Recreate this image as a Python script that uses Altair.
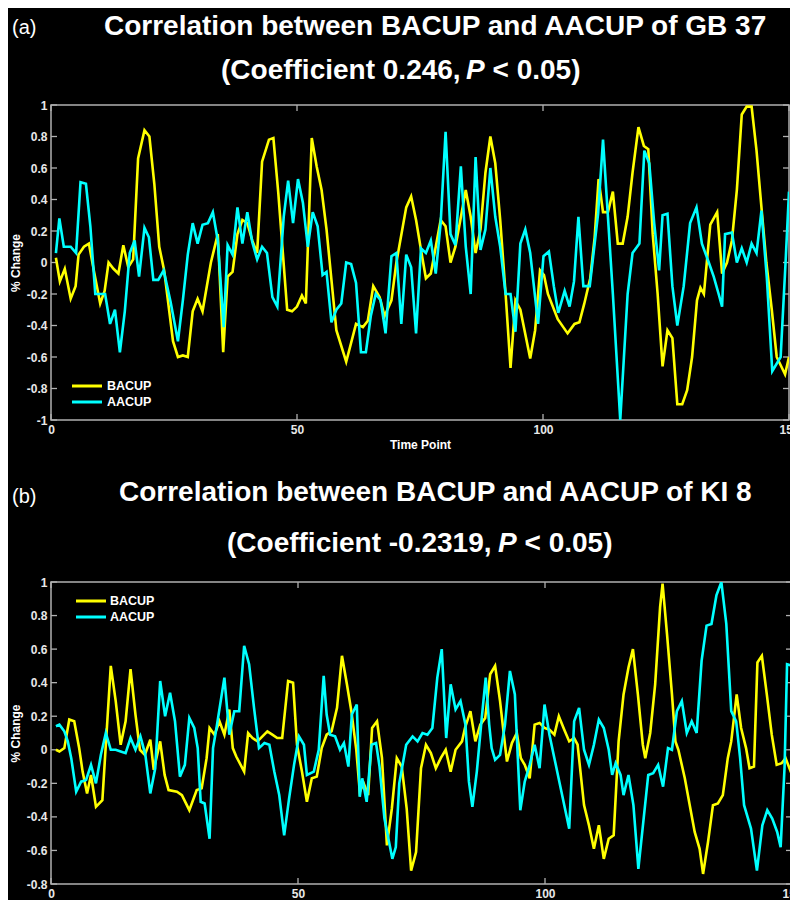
import altair as alt
import pandas as pd

FONT = "Liberation Sans"
SERIES = ["BACUP", "AACUP"]
COLORS = ["#ffff00", "#00ffff"]
X_TICKS = [0, 50, 100, 150]
A_Y_TICKS = [-1, -0.8, -0.6, -0.4, -0.2, 0, 0.2, 0.4, 0.6, 0.8, 1]
B_Y_TICKS = [-0.8, -0.6, -0.4, -0.2, 0, 0.2, 0.4, 0.6, 0.8, 1]
X_TITLE = "Time Point"
Y_TITLE = "% Change"
A_LABEL = "(a)"
B_LABEL = "(b)"
A_TITLE = "Correlation between BACUP and AACUP of GB 37"
A_SUB = ["(Coefficient 0.246,", "P", "< 0.05)"]
B_TITLE = "Correlation between BACUP and AACUP of KI 8"
B_SUB = ["(Coefficient -0.2319,", "P", "< 0.05)"]

# ---- panel (a) : GB 37 ----
A_BACUP_T = [1, 1.8, 2.8, 4, 5, 5.6, 6.7, 7.7, 8.7, 10,
             10.9, 11.7, 12.7, 13.7, 14.7, 15.7, 16.7, 17.7, 19, 20,
             21, 22, 23, 24.8, 25.8, 26.8, 27.8, 28.8, 29.8, 30.8,
             32.5, 33.9, 35, 35.9, 36.9, 37.9, 38.9, 39.9, 40.9, 41.9,
             42.9, 44.3, 45.2, 46.2, 48, 49, 50, 51, 51.8, 53,
             54, 55, 56, 58, 60, 62, 63.4, 64.4, 65.5, 66.8,
             67.8, 69.2, 70.2, 72.2, 73.2, 74.2, 75.2, 76.2, 77.2, 78.2,
             79.2, 80.2, 81.2, 82.2, 83.2, 84.3, 85.3, 86.3, 87.3, 88.3,
             89.3, 90.3, 91.3, 92.4, 93.4, 94.4, 95.4, 97.4, 98.4, 99.4,
             100.2, 101, 103, 105, 106.4, 107.4, 108.4, 109.6, 110.5, 111.3,
             112.2, 113.2, 114.2, 115.2, 116.2, 117.2, 118.2, 119.4, 120.5, 121.4,
             122.3, 123.3, 124.3, 125.3, 126.3, 127.3, 128.3, 129.3, 130.3, 131.3,
             132, 132.7, 134, 135.4, 136.4, 137.4, 138.4, 139.4, 140.4, 141.4,
             142.4, 143.4, 144.4, 145.4, 146.5, 147.5, 149.2, 150]
A_BACUP_V = [0.03, -0.12, -0.04, -0.23, -0.15, 0.05, 0.10, 0.12, -0.05, -0.26,
             -0.18, 0.0, -0.04, -0.07, 0.11, -0.03, 0.02, 0.66, 0.84, 0.80,
             0.50, 0.10, -0.05, -0.50, -0.60, -0.59, -0.60, -0.31, -0.23, -0.31,
             0.0, 0.18, -0.57, -0.09, -0.06, 0.18, 0.27, 0.25, 0.14, 0.06,
             0.64, 0.78, 0.79, 0.44, -0.30, -0.31, -0.28, -0.21, -0.26, 0.79,
             0.61, 0.46, 0.21, -0.43, -0.63, -0.39, -0.41, -0.37, -0.15, -0.22,
             -0.34, -0.24, 0.0, 0.35, 0.42, 0.27, 0.08, -0.10, -0.07, 0.10,
             0.27, 0.23, 0.0, 0.10, 0.27, 0.46, 0.29, 0.06, 0.21, 0.57,
             0.80, 0.63, 0.27, -0.20, -0.67, -0.24, -0.30, -0.61, -0.43, -0.05,
             -0.08, -0.20, -0.36, -0.45, -0.39, -0.38, -0.26, -0.10, 0.16, 0.53,
             0.32, 0.32, 0.45, 0.12, 0.12, 0.29, 0.57, 0.86, 0.74, 0.72,
             0.18, -0.20, -0.66, -0.43, -0.48, -0.90, -0.90, -0.81, -0.60, -0.24,
             -0.16, -0.20, 0.24, 0.32, -0.07, 0.0, 0.14, 0.46, 0.94, 0.99,
             0.99, 0.71, 0.35, 0.0, -0.30, -0.60, -0.71, -0.60]
A_AACUP_T = [1, 1.7, 2.6, 4, 5.1, 6, 7.1, 8, 9, 10,
             11, 12, 13, 14, 15, 16, 17, 17.9, 19, 19.9,
             20.8, 21.8, 22.9, 24.3, 25.8, 26.8, 27.8, 28.8, 29.8, 30.8,
             31.9, 32.9, 33.9, 35.1, 35.9, 36.9, 37.9, 38.9, 39.9, 40.9,
             41.9, 42.9, 43.9, 45, 46, 47.3, 48.2, 49.2, 50.2, 51.2,
             52.2, 53.2, 54.2, 55.2, 56, 57, 58, 59, 60, 61,
             62, 63, 64, 65, 66, 67, 68, 69.2, 70.2, 71.2,
             72.2, 73.2, 74.2, 75.2, 76.2, 77.2, 78.2, 79.2, 80.2, 81.2,
             82.2, 83.3, 84.3, 85.3, 86.3, 87.3, 88.3, 89.3, 90.3, 91.3,
             92.4, 93.4, 94.4, 95.4, 96.4, 97.4, 99, 100.1, 101.2, 102.2,
             103.1, 104.4, 105.4, 106.3, 107.2, 108.2, 109.5, 111.2, 112.2, 113.2,
             114.2, 115.7, 117.2, 118.2, 119.6, 120.6, 121.6, 122.6, 123.6, 124.3,
             125.3, 126.3, 127.3, 128.6, 129.9, 131.2, 132.3, 133.7, 134.7, 135.7,
             136.4, 137, 138.4, 139.4, 140.4, 141.4, 142.4, 143.4, 144.4, 145.5,
             146.6, 148.3, 149.3, 150]
A_AACUP_V = [0.06, 0.28, 0.10, 0.10, 0.06, 0.51, 0.50, 0.23, -0.20, -0.20,
             -0.20, -0.39, -0.30, -0.57, -0.31, 0.06, 0.14, -0.09, 0.22, 0.16,
             -0.11, -0.11, -0.05, -0.25, -0.50, -0.24, 0.05, 0.25, 0.12, 0.24,
             0.25, 0.32, 0.14, -0.41, 0.11, 0.05, 0.35, 0.12, 0.32, 0.13,
             0.02, 0.10, 0.06, -0.22, -0.28, 0.29, 0.52, 0.25, 0.53, 0.38,
             0.10, 0.32, 0.23, -0.08, -0.06, -0.38, -0.30, -0.26, 0.0, -0.01,
             -0.13, -0.57, -0.57, -0.34, -0.20, -0.24, -0.45, 0.04, 0.06, -0.39,
             0.05, -0.03, -0.45, 0.09, 0.06, 0.14, -0.07, 0.25, 0.83, 0.18,
             0.11, 0.61, 0.10, -0.20, 0.67, 0.08, 0.21, 0.60, 0.29, 0.10,
             -0.20, -0.20, -0.44, 0.12, 0.21, 0.06, -0.39, 0.04, 0.07, -0.15,
             -0.32, -0.18, -0.28, -0.12, 0.29, -0.15, -0.15, 0.31, 0.78, 0.29,
             -0.20, -1.0, -0.20, 0.06, 0.12, 0.71, 0.63, 0.25, -0.05, 0.30,
             0.31, -0.15, -0.40, -0.15, 0.25, 0.35, 0.12, 0.0, -0.09, -0.20,
             -0.28, 0.18, 0.19, 0.0, 0.09, 0.0, 0.12, 0.06, 0.33, -0.10,
             -0.69, -0.60, 0.0, 0.45]

# ---- panel (b) : KI 8 ----
B_BACUP_T = [1, 1.7, 2.7, 3.7, 4.7, 5.7, 6.4, 7.3, 8.1, 9.1,
             10.4, 11.1, 12.1, 13.1, 14.1, 15.1, 16.1, 17.1, 18, 19,
             20.1, 20.8, 22.1, 23, 23.8, 25.5, 26.5, 28, 29.5, 30.5,
             31.5, 32.1, 33.1, 34.1, 35.1, 36.1, 36.8, 37.5, 39.1, 39.9,
             40.8, 41.8, 42.8, 43.8, 44.8, 45.8, 46.8, 48, 49, 49.8,
             50.8, 51.8, 52.8, 53.8, 54.8, 55.8, 56.8, 57.9, 58.9, 59.9,
             60.8, 61.8, 62.5, 63.3, 64.2, 65, 66, 67, 68, 69,
             70, 71, 72, 72.9, 73.9, 74.9, 75.9, 76.9, 77.9, 78.9,
             79.9, 80.9, 81.9, 83.2, 83.8, 84.9, 85.9, 86.9, 87.9, 88.9,
             89.9, 90.9, 91.9, 92.3, 93.3, 94.3, 95.1, 95.9, 96.9, 97.9,
             98.9, 99.9, 100.9, 101.9, 102.8, 103.9, 104.9, 105.9, 106.6, 107.9,
             108.9, 109.9, 110.9, 111.9, 112.9, 113.9, 114.9, 115.9, 116.9, 117.8,
             118.8, 119.8, 120.3, 121.3, 122.3, 123.3, 123.8, 124.7, 125.7, 126.4,
             127, 128.3, 129.3, 130.3, 131.3, 132, 133, 134, 135, 136,
             137, 137.7, 138.8, 139.7, 140.7, 141.4, 142.3, 143, 143.9, 144.9,
             145.9, 146.9, 147.9, 148.7, 150]
B_BACUP_V = [0.0, -0.01, 0.01, 0.18, 0.17, 0.01, -0.13, -0.26, -0.15, -0.34,
             -0.30, 0.03, 0.50, 0.29, 0.03, 0.17, 0.48, 0.21, 0.0, -0.03,
             0.06, -0.12, 0.05, -0.15, -0.24, -0.25, -0.27, -0.36, -0.24, -0.23,
             -0.05, 0.13, 0.09, 0.17, 0.09, 0.24, 0.01, -0.04, -0.13, 0.10,
             0.07, 0.05, 0.08, 0.11, 0.09, 0.07, 0.07, 0.41, 0.40, 0.03,
             -0.13, -0.31, -0.17, -0.16, 0.01, 0.09, 0.11, 0.25, 0.56, 0.39,
             0.23, 0.0, -0.25, -0.20, -0.27, 0.13, 0.17, -0.05, -0.57, -0.35,
             -0.05, -0.10, -0.35, -0.72, -0.61, -0.11, 0.03, -0.02, -0.11, -0.05,
             0.0, -0.13, 0.0, 0.05, 0.13, 0.23, 0.05, 0.15, 0.19, 0.45,
             0.50, 0.29, 0.03, -0.07, 0.04, 0.10, -0.05, -0.09, -0.17, 0.15,
             0.16, 0.13, 0.12, 0.09, 0.20, 0.12, 0.05, 0.07, 0.03, -0.33,
             -0.45, -0.59, -0.45, -0.65, -0.53, -0.51, 0.05, 0.33, 0.49, 0.60,
             0.33, 0.03, -0.05, 0.10, 0.39, 0.85, 0.99, 0.69, 0.33, 0.05,
             0.0, -0.17, -0.33, -0.49, -0.59, -0.74, -0.55, -0.33, -0.32, -0.27,
             -0.05, 0.05, 0.33, 0.13, 0.01, -0.11, -0.10, 0.52, 0.56, 0.33,
             0.09, -0.09, -0.08, -0.05, -0.15]
B_AACUP_T = [1, 1.7, 2.7, 3.4, 4.1, 5.1, 6.1, 7.1, 8.1, 9.1,
             10.1, 11.1, 12.1, 13.1, 14.1, 15.1, 16.1, 17.1, 18.1, 19.1,
             20.1, 21.1, 22.1, 23.1, 24.1, 25.1, 26.1, 27.1, 28, 29,
             29.7, 30.3, 31.1, 32.1, 32.8, 33.5, 35.1, 36.1, 37.1, 38.1,
             39.1, 40.1, 41.1, 42.1, 43.2, 44.2, 45.2, 46.2, 47.2, 48.2,
             49.2, 50.2, 51.2, 51.8, 53.2, 54.2, 55.2, 55.8, 56.5, 57.5,
             58.5, 59.3, 60.2, 60.9, 61.9, 62.5, 63, 63.9, 64.9, 65.8,
             66.5, 67.5, 69.1, 69.8, 70.5, 71.9, 73.2, 74.2, 75.2, 76.2,
             77.2, 78.2, 79.1, 80, 80.9, 81.9, 82.9, 83.9, 84.6, 85.3,
             86.2, 87.2, 88, 88.7, 89.2, 89.9, 90.9, 91.9, 92.9, 93.9,
             94.5, 95, 95.9, 96.9, 97.9, 98.9, 99.9, 100.9, 101.9, 102.9,
             103.9, 104.9, 105.9, 106.9, 107.9, 108.9, 109.9, 110.9, 111.9, 112.9,
             113.6, 114.3, 115.3, 115.9, 116.9, 117.9, 118.9, 119.9, 120.9, 121.9,
             122.9, 123.9, 124.9, 125.7, 126.7, 127.7, 128.7, 129.7, 130.7, 131.7,
             132.7, 133.7, 134.7, 135.7, 136.7, 137.7, 138.7, 139.5, 140.3, 141.7,
             142.9, 144, 145, 146, 147, 147.7, 148.5, 149, 150]
B_AACUP_V = [0.14, 0.15, 0.11, 0.05, -0.05, -0.25, -0.19, -0.18, -0.09, -0.20,
             -0.03, 0.10, 0.0, 0.0, -0.01, -0.02, 0.07, 0.0, 0.08, -0.03,
             -0.26, -0.11, 0.41, 0.20, 0.34, 0.17, -0.16, -0.09, 0.19, 0.13,
             0.01, -0.31, -0.32, -0.53, 0.01, 0.13, 0.43, 0.09, 0.23, 0.23,
             0.62, 0.51, 0.25, 0.01, 0.04, 0.03, -0.13, -0.27, -0.51, -0.29,
             -0.09, 0.08, 0.03, -0.15, -0.13, 0.0, 0.44, 0.21, 0.09, 0.08,
             0.0, 0.04, -0.10, 0.21, 0.27, -0.28, -0.17, -0.31, 0.03, 0.04,
             -0.10, -0.41, -0.65, -0.58, -0.20, 0.03, 0.08, 0.05, 0.10, 0.09,
             0.13, 0.43, 0.60, 0.07, 0.39, 0.24, 0.29, 0.15, -0.19, -0.34,
             -0.13, 0.19, 0.43, 0.15, 0.01, -0.06, -0.03, 0.15, 0.47, 0.33,
             -0.05, -0.36, -0.19, -0.09, 0.03, -0.11, 0.27, 0.09, -0.05, -0.19,
             -0.33, -0.47, 0.17, 0.25, 0.0, -0.09, 0.03, 0.18, 0.13, 0.0,
             -0.15, -0.08, -0.15, -0.27, -0.15, -0.33, -0.71, -0.43, -0.15, -0.14,
             -0.09, -0.22, 0.01, 0.0, 0.23, 0.29, 0.10, 0.17, 0.10, 0.53,
             0.74, 0.75, 0.92, 1.0, 0.75, 0.23, 0.17, -0.05, -0.33, -0.47,
             -0.72, -0.45, -0.36, -0.41, -0.49, -0.58, -0.10, 0.51, 0.50]

AXIS_GRAY = "#b0b0b0"
LABEL_GRAY = "#e8e8e8"
Y_LABEL_EXPR = "(datum.value < 0 ? '-' : '') + format(abs(datum.value), '.1~f')"


def panel(series_data, yticks, ydom, W, H, label, title, sub, geo):
    frames = []
    for name, (ts, vs) in zip(SERIES, series_data):
        frames.append(pd.DataFrame({"t": ts, "v": vs, "series": name}))
    df = pd.concat(frames, ignore_index=True)
    xs = alt.Scale(domain=[0, 150], nice=False, zero=False)
    ys = alt.Scale(domain=ydom, nice=False, zero=False)
    x_axis = alt.Axis(values=X_TICKS, title=X_TITLE, labelFlush=False,
                      labelPadding=4, titlePadding=4)
    y_axis = alt.Axis(values=yticks, labelExpr=Y_LABEL_EXPR, title=Y_TITLE,
                      labelPadding=4, titleX=-36, titleY=H / 2, titleAngle=270,
                      titleAlign="center", titleBaseline="middle")

    lines = alt.Chart(df).mark_line(strokeWidth=2.6, clip=True).encode(
        x=alt.X("t:Q", scale=xs, axis=x_axis),
        y=alt.Y("v:Q", scale=ys, axis=y_axis),
        color=alt.Color("series:N", scale=alt.Scale(domain=SERIES, range=COLORS),
                        legend=None),
    )

    xt = pd.DataFrame({"t": X_TICKS})
    yt = pd.DataFrame({"v": yticks})
    rule = dict(color=AXIS_GRAY, strokeWidth=1.3)
    tb = alt.Chart(xt).mark_rule(**rule).encode(
        x=alt.X("t:Q", scale=xs, axis=x_axis), y=alt.value(H - 6), y2=alt.value(H))
    tt = alt.Chart(xt).mark_rule(**rule).encode(
        x=alt.X("t:Q", scale=xs, axis=x_axis), y=alt.value(0), y2=alt.value(6))
    tl = alt.Chart(yt).mark_rule(**rule).encode(
        y=alt.Y("v:Q", scale=ys, axis=y_axis), x=alt.value(0), x2=alt.value(6))
    tr = alt.Chart(yt).mark_rule(**rule).encode(
        y=alt.Y("v:Q", scale=ys, axis=y_axis), x=alt.value(W - 6), x2=alt.value(W))

    one = pd.DataFrame({"k": [0]})
    layers = [tb, tt, tl, tr, lines]

    # legend
    lx, ly, lt = geo["legend"]
    for i, (name, col) in enumerate(zip(SERIES, COLORS)):
        layers.append(alt.Chart(one).mark_rule(color=col, strokeWidth=3).encode(
            x=alt.value(lx), x2=alt.value(lx + 30),
            y=alt.value(ly + 16 * i)))
        layers.append(alt.Chart(one).mark_text(
            align="left", baseline="middle", font=FONT, fontSize=12.5,
            fontWeight="bold", color="white").encode(
            x=alt.value(lt), y=alt.value(ly + 16 * i), text=alt.value(name)))

    def txt(s, x, y, size, weight="bold", style="normal"):
        return alt.Chart(one).mark_text(
            align="left", baseline="alphabetic", font=FONT, fontSize=size,
            fontWeight=weight, fontStyle=style, color="white").encode(
            x=alt.value(x), y=alt.value(y), text=alt.value(s))

    lbx, lby = geo["label"]
    layers.append(txt(label, lbx, lby, 20, weight="normal"))
    t1x, t1y = geo["title"]
    layers.append(txt(title, t1x, t1y, 28))
    (s1, s2, s3), sy = geo["sub"]
    layers.append(txt(sub[0], s1, sy, 28))
    layers.append(txt(sub[1], s2, sy, 28, style="italic"))
    layers.append(txt(sub[2], s3, sy, 28))

    return alt.layer(*layers).properties(width=W, height=H)


pa = panel([(A_BACUP_T, A_BACUP_V), (A_AACUP_T, A_AACUP_V)], A_Y_TICKS, [-1, 1],
           738, 315, A_LABEL, A_TITLE, A_SUB,
           {"legend": (21, 281, 56), "label": (-39, -71), "title": (53, -70),
            "sub": ((170, 415, 441.5), -26)})
pb = panel([(B_BACUP_T, B_BACUP_V), (B_AACUP_T, B_AACUP_V)], B_Y_TICKS, [-0.8, 1],
           741, 302, B_LABEL, B_TITLE, B_SUB,
           {"legend": (25, 19, 59), "label": (-39, -79), "title": (68, -81.5),
            "sub": ((176, 447, 473.5), -30.5)})

chart = alt.vconcat(pa, pb, spacing=26).properties(
    background="black",
    padding={"left": 0, "top": 4, "right": -13, "bottom": -15},
).configure_view(
    stroke=AXIS_GRAY, strokeWidth=1.5
).configure_axis(
    domain=False, ticks=False, grid=False,
    labelFont=FONT, labelFontSize=12, labelFontWeight="bold", labelColor=LABEL_GRAY,
    titleFont=FONT, titleFontSize=12, titleFontWeight="bold", titleColor="white",
)

chart.save("out.html", embed_options={"renderer": "svg", "actions": False})
